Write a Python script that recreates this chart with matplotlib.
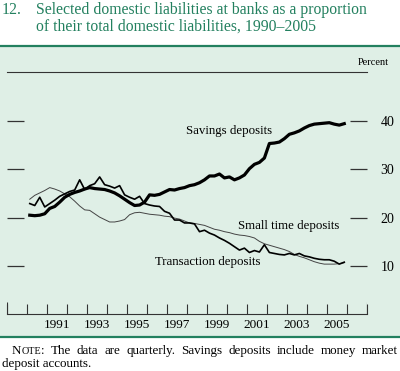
import matplotlib
matplotlib.use("Agg")
import matplotlib.pyplot as plt
from matplotlib.patches import Rectangle
import numpy as np

plt.rcParams['font.family'] = ['Liberation Serif', 'DejaVu Serif']

# quarterly data, 1990:Q1 - 2005:Q4 (percent of total domestic liabilities)
quarters = 1990.125 + 0.25 * np.arange(64)

savings = [20.5, 20.4, 20.5, 20.8, 21.9, 22.3, 23.2, 24.2,
           24.8, 25.2, 25.5, 25.9, 26.2, 26.0, 25.9, 25.8,
           25.5, 25.1, 24.5, 23.8, 23.1, 22.5, 22.6, 23.2,
           24.7, 24.6, 24.8, 25.3, 25.8, 25.7, 26.0, 26.2,
           26.6, 26.8, 27.2, 27.8, 28.6, 28.6, 29.0, 28.2,
           28.4, 27.8, 28.2, 28.8, 30.1, 31.0, 31.4, 32.3,
           35.3, 35.4, 35.6, 36.3, 37.2, 37.5, 37.9, 38.5,
           39.0, 39.3, 39.4, 39.5, 39.6, 39.3, 39.1, 39.4]

transaction = [22.9, 22.5, 24.2, 22.2, 22.9, 23.6, 24.4, 24.9,
               25.4, 25.7, 27.8, 25.8, 26.6, 27.0, 28.4, 26.8,
               26.5, 26.1, 26.6, 24.7, 24.2, 23.8, 24.4, 22.9,
               22.6, 22.4, 22.3, 21.3, 20.9, 19.5, 19.5, 18.9,
               18.9, 18.7, 17.1, 17.4, 16.8, 16.4, 15.8, 15.3,
               14.7, 14.0, 13.3, 13.7, 12.8, 13.2, 12.9, 14.4,
               12.8, 12.6, 12.4, 12.3, 12.6, 12.3, 12.6, 12.1,
               11.9, 11.6, 11.4, 11.3, 11.3, 11.0, 10.4, 10.8]

small_time = [23.8, 24.6, 25.1, 25.6, 26.2, 25.9, 25.5, 24.9,
              24.3, 23.4, 22.4, 21.6, 21.5, 20.8, 20.1, 19.6,
              19.1, 19.1, 19.3, 19.6, 20.6, 21.0, 21.1, 20.9,
              20.7, 20.6, 20.5, 20.3, 20.2, 19.9, 19.7, 19.3,
              18.9, 18.8, 18.6, 18.4, 18.0, 17.6, 17.4, 17.1,
              16.9, 16.6, 16.4, 16.3, 16.1, 15.8, 15.1, 14.6,
              14.3, 14.0, 13.7, 13.4, 13.0, 12.4, 12.0, 11.7,
              11.3, 10.9, 10.6, 10.4, 10.4, 10.4, 10.5, 10.7]

year_ticks = np.arange(1989, 2008)
year_labels = [str(y) for y in range(1991, 2006, 2)]
pct_ticks = [10, 20, 30, 40]

green_dark = '#23805f'
panel = '#dfefe6'
ink = '#333333'

fig = plt.figure(figsize=(4.0, 3.71), dpi=100)

# green background panel
fig.patches.append(Rectangle((0, 0.0916), 1, 0.7844, transform=fig.transFigure,
                             facecolor=panel, edgecolor='none', zorder=-5))
fig.add_artist(plt.Line2D([0, 1], [0.876, 0.876], color=green_dark, lw=1.6))
fig.add_artist(plt.Line2D([0, 1], [0.0916, 0.0916], color=green_dark, lw=1.6))

# title
t_size = 11.3
fig.text(0.005, 1 - 9.5 / 371, "12.", fontsize=t_size, color=green_dark, va='center')
fig.text(0.09, 1 - 9.5 / 371, "Selected domestic liabilities at banks as a proportion",
         fontsize=t_size, color=green_dark, va='center')
fig.text(0.09, 1 - 26.5 / 371, "of their total domestic liabilities, 1990\u20132005",
         fontsize=t_size, color=green_dark, va='center')

ax = fig.add_axes([0.01825, 0.1523, 0.89855, 0.6528])
ax.set_facecolor('none')
ax.set_zorder(2)
ax.set_xlim(1989, 2007)
ax.set_ylim(0, 50)

ax.plot(quarters, small_time, color='#444444', lw=0.7)
ax.plot(quarters, transaction, color='black', lw=1.2)
ax.plot(quarters, savings, color='black', lw=2.3)

for s in ['left', 'right']:
    ax.spines[s].set_visible(False)
ax.spines['top'].set_color(ink)
ax.spines['top'].set_linewidth(0.8)
ax.spines['bottom'].set_color(ink)
ax.spines['bottom'].set_linewidth(0.8)

# x axis: ticks at every year, labels at mid-year
ax.set_xticks(year_ticks)
ax.set_xticklabels([])
ax.tick_params(axis='x', which='major', direction='in', length=7.5,
               width=0.8, color=ink, top=False)
ax.set_xticks([int(l) + 0.5 for l in year_labels], minor=True)
ax.set_xticklabels(year_labels, minor=True, fontsize=9.5)
ax.tick_params(axis='x', which='minor', length=0, pad=3, labelcolor='black')
ax.vlines([1989, 2007], 0, 2.6, color=ink, lw=0.8)

# y axis: ticks on both sides, labels on the right
ax.set_yticks(pct_ticks)
ax.tick_params(axis='y', direction='in', length=12, width=0.9, color=ink,
               left=True, right=True, labelleft=False, labelright=True,
               labelsize=10, pad=10)
ax.text(0.976, 1.041, "Percent", transform=ax.transAxes, fontsize=7.5,
        ha='left', va='center')

ax.text(1997.95, 37.8, "Savings deposits", fontsize=9.3, ha='left', va='center')
ax.text(2000.55, 18.3, "Small time deposits", fontsize=9.3, ha='left', va='center')
ax.text(1996.4, 10.9, "Transaction deposits", fontsize=9.3, ha='left', va='center')

# note, justified on the first line
fig.canvas.draw()
renderer = fig.canvas.get_renderer()
note_words = [[("N", 9.4), ("OTE", 7.3), (":", 9.4)], [("The", 9.4)], [("data", 9.4)],
              [("are", 9.4)], [("quarterly.", 9.4)], [("Savings", 9.4)],
              [("deposits", 9.4)], [("include", 9.4)], [("money", 9.4)],
              [("market", 9.4)]]
W = fig.bbox.width
x_left, x_right, y_line = 12 / W, 398 / W, 1 - 351 / 371
pieces = []
widths = []
for word in note_words:
    wsum = 0
    items = []
    for txt, sz in word:
        t = fig.text(0, y_line, txt, fontsize=sz, va='center')
        w = t.get_window_extent(renderer).width / W
        items.append((t, wsum))
        wsum += w
    pieces.append(items)
    widths.append(wsum)
gap = (x_right - x_left - sum(widths)) / (len(note_words) - 1)
x = x_left
for items, w in zip(pieces, widths):
    for t, off in items:
        t.set_x(x + off)
    x += w + gap
fig.text(2 / W, 1 - 364 / 371, "deposit accounts.", fontsize=9.4, va='center')

fig.savefig("out.png", dpi=100)
